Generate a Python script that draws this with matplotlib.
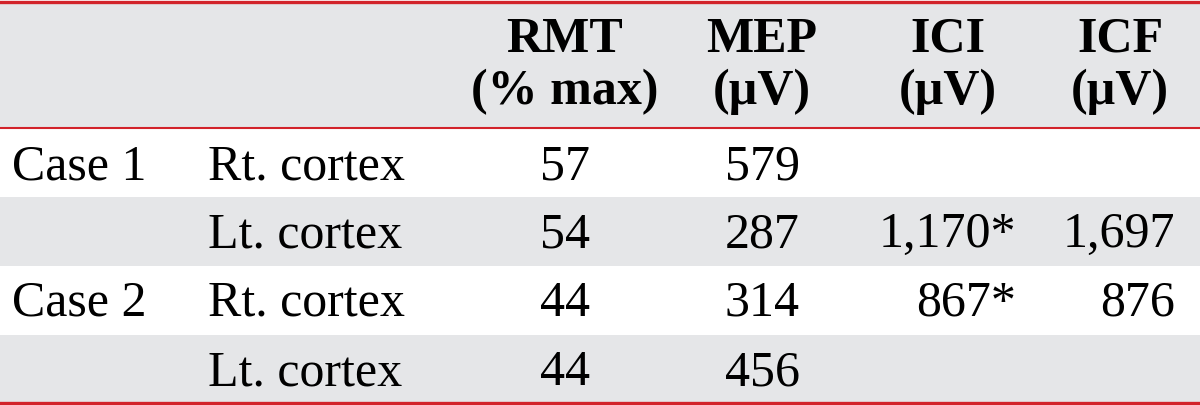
import matplotlib.pyplot as plt
from matplotlib.patches import Rectangle

# table contents
header_top = ['RMT', 'MEP', 'ICI', 'ICF']
header_bot = ['(% max)', '(µV)', '(µV)', '(µV)']
cases = ['Case 1', '', 'Case 2', '']
sides = ['Rt. cortex', 'Lt. cortex', 'Rt. cortex', 'Lt. cortex']
rmt = ['57', '54', '44', '44']
mep = ['579', '287', '314', '456']
ici = ['', '1,170*', '867*', '']
icf = ['', '1,697', '876', '']

red = '#d2232a'
grey = '#e5e6e8'
font = 'Liberation Serif'
fs = 36

fig = plt.figure(figsize=(12, 4.05), dpi=100)
ax = fig.add_axes([0, 0, 1, 1])
ax.set_xlim(0, 1200)
ax.set_ylim(405, 0)
ax.axis('off')

# backgrounds
ax.add_patch(Rectangle((0, 2), 1200, 125, color=grey, lw=0))
row_edges = [129, 197, 266, 335, 402]
for i in range(4):
    if i % 2 == 1:
        ax.add_patch(Rectangle((0, row_edges[i]), 1200, row_edges[i + 1] - row_edges[i],
                               color=grey, lw=0))

# red rules
ax.axhline(1.5, color=red, lw=2.4)
ax.axhline(127.5, color=red, lw=1.5)
ax.axhline(403, color=red, lw=2.4)

# header
head_x = [565, 762, 948, 1120]
for x, t, b in zip(head_x, header_top, header_bot):
    ax.text(x, 52, t, ha='center', va='baseline', fontsize=fs, fontweight='bold', family=font)
    ax.text(x, 104, b, ha='center', va='baseline', fontsize=fs, fontweight='bold', family=font)

# body
baselines = [179, 247, 316, 385]
for i in range(4):
    y = baselines[i]
    ax.text(12, y, cases[i], ha='left', va='baseline', fontsize=fs, family=font)
    ax.text(208, y, sides[i], ha='left', va='baseline', fontsize=fs, family=font)
    ax.text(565, y, rmt[i], ha='center', va='baseline', fontsize=fs, family=font)
    ax.text(762, y, mep[i], ha='center', va='baseline', fontsize=fs, family=font)
    ax.text(1016, y, ici[i], ha='right', va='baseline', fontsize=fs, family=font)
    ax.text(1175, y, icf[i], ha='right', va='baseline', fontsize=fs, family=font)

fig.savefig('out.png', dpi=100)
